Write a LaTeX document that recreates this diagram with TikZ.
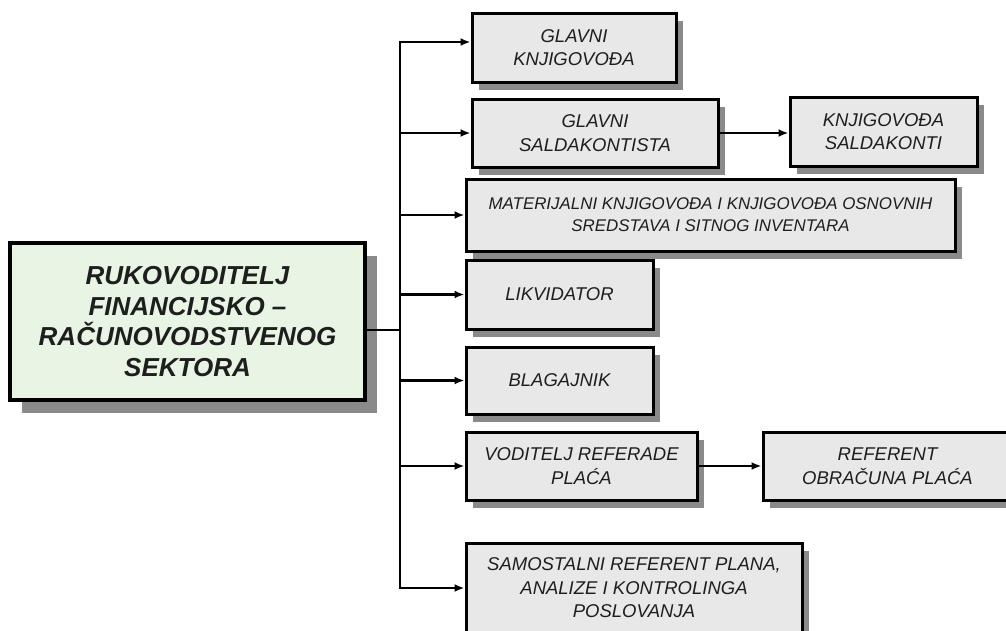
\documentclass[tikz,border=0pt]{standalone}
\usepackage{fontspec}
\setmainfont{Liberation Sans}
\usetikzlibrary{shadows,arrows.meta}
\definecolor{boxgray}{HTML}{E8E8E8}
\definecolor{boxgreen}{HTML}{E9F5E4}
\definecolor{shadowgray}{HTML}{8A8A8A}
\definecolor{txt}{HTML}{1E1E1E}
\tikzset{
  unit/.style={draw=black, line width=3pt, fill=boxgray, inner sep=0pt, align=center,
    text=txt, font=\itshape\fontsize{18.5}{23.5}\selectfont,
    drop shadow={shadow xshift=7pt, shadow yshift=-8pt, fill=shadowgray, opacity=1}},
  smalltext/.style={font=\itshape\fontsize{16.9}{22}\selectfont},
  headbox/.style={draw=black, line width=3.5pt, fill=boxgreen, inner sep=0pt, align=center,
    text=txt, font=\bfseries\itshape\fontsize{26}{30.7}\selectfont,
    drop shadow={shadow xshift=12pt, shadow yshift=-13pt, fill=shadowgray, opacity=1}},
  conn/.style={line width=2.5pt, line cap=rect},
  arr/.style={line width=2.5pt, -{Latex[length=10pt,width=8pt]}}
}
\begin{document}
\begin{tikzpicture}[x=1pt,y=-1pt]
\useasboundingbox (0,0) rectangle (1006,630);
\clip (0,0) rectangle (1006,630);
\fill[white] (0,0) rectangle (1006,630);

\node[headbox, minimum width=355pt, minimum height=157pt] (main) at (187.5,321.5)
  {RUKOVODITELJ\\FINANCIJSKO --\\RAČUNOVODSTVENOG\\SEKTORA};

\node[unit, minimum width=204pt, minimum height=69pt] (b1) at (574,47.5) {GLAVNI\\KNJIGOVOĐA};
\node[unit, minimum width=246pt, minimum height=68pt] (b2) at (595,133) {GLAVNI\\SALDAKONTISTA};
\node[unit, minimum width=187pt, minimum height=69pt] (b2b) at (883.5,131.5) {KNJIGOVOĐA\\SALDAKONTI};
\node[unit, smalltext, minimum width=489pt, minimum height=72pt] (b3) at (710.5,215)
  {MATERIJALNI KNJIGOVOĐA I KNJIGOVOĐA OSNOVNIH\\SREDSTAVA I SITNOG INVENTARA};
\node[unit, minimum width=187pt, minimum height=69pt] (b4) at (559.5,294.5) {LIKVIDATOR};
\node[unit, minimum width=187pt, minimum height=67pt] (b5) at (559.5,380.5) {BLAGAJNIK};
\node[unit, minimum width=231pt, minimum height=68pt] (b6) at (581.5,466) {VODITELJ REFERADE\\PLAĆA};
\node[unit, minimum width=249pt, minimum height=68pt] (b6b) at (887.5,466) {REFERENT\\OBRAČUNA PLAĆA};
\node[unit, minimum width=336pt, minimum height=90pt] (b7) at (634,588)
  {SAMOSTALNI REFERENT PLANA,\\ANALIZE I KONTROLINGA\\POSLOVANJA};

\coordinate (tx) at (400,0);
\coordinate (tm) at (400,330);
\coordinate (a1) at ([yshift=5.5pt]b1.west);

\draw[conn] (tm -| main.east) -- (tm);
\draw[conn] (a1 -| tx) -- (b7.west -| tx);
\draw[arr] (a1 -| tx) -- (a1);
\draw[arr] (b2.west -| tx) -- (b2.west);
\draw[arr] (b3.west -| tx) -- (b3.west);
\draw[arr] (b4.west -| tx) -- (b4.west);
\draw[arr] (b5.west -| tx) -- (b5.west);
\draw[arr] (b6.west -| tx) -- (b6.west);
\draw[arr] (b7.west -| tx) -- (b7.west);
\draw[arr] (b2.east) -- (b2.east -| b2b.west);
\draw[arr] (b6.east) -- (b6.east -| b6b.west);
\end{tikzpicture}
\end{document}
